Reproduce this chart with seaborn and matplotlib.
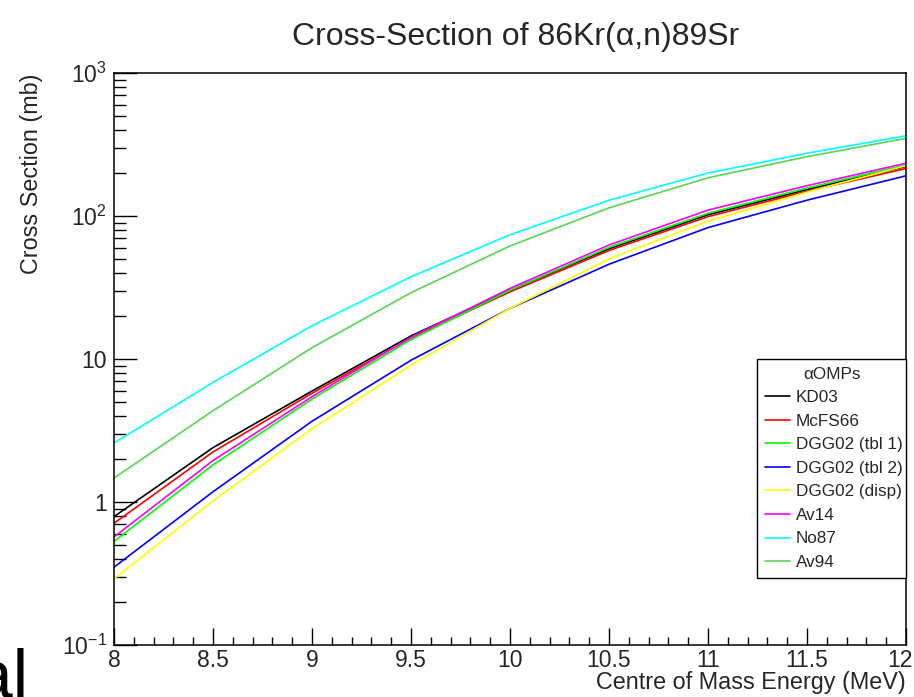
import numpy as np
import pandas as pd
import matplotlib
matplotlib.use("Agg")
import matplotlib.pyplot as plt
import matplotlib.transforms as mtransforms
import seaborn as sns
from matplotlib.ticker import FixedLocator, FixedFormatter, LogLocator, MultipleLocator, NullFormatter
from matplotlib.lines import Line2D

# ---------------- data ----------------
energy = [8.0, 8.5, 9.0, 9.5, 10.0, 10.5, 11.0, 11.5, 12.0]

kd03     = [0.79, 2.40, 5.97, 14.5, 30.3, 59.0, 102, 153, 222]
mcfs66   = [0.71, 2.24, 5.76, 14.0, 29.5, 57.4, 99, 149, 215]
dgg_t1   = [0.53, 1.82, 5.25, 13.7, 30.3, 60.4, 104.5, 157, 228]
dgg_t2   = [0.35, 1.18, 3.67, 9.8, 22.6, 46.0, 83, 129, 191]
dgg_disp = [0.29, 1.02, 3.26, 9.08, 22.6, 50.2, 92, 147, 225]
av14     = [0.57, 1.95, 5.45, 14.2, 31.2, 62.7, 110, 163, 234]
no87     = [2.59, 6.87, 17.1, 37.6, 74.0, 129, 200, 275, 364]
av94     = [1.47, 4.35, 12.0, 29.1, 61.7, 114, 185, 260, 349]

series_names = ["KD03", "McFS66", "DGG02 (tbl 1)", "DGG02 (tbl 2)", "DGG02 (disp)",
                "Av14", "No87", "Av94"]
series_values = [kd03, mcfs66, dgg_t1, dgg_t2, dgg_disp, av14, no87, av94]
series_colors = ["#000000", "#ff0000", "#00ff00", "#0000ff", "#ffff00",
                 "#ff00ff", "#00ffff", "#59d454"]

ytick_values = [0.1, 1, 10, 100, 1000]
ytick_labels = ["$10^{-1}$", "1", "10", "$10^{2}$", "$10^{3}$"]
xtick_values = [8, 8.5, 9, 9.5, 10, 10.5, 11, 11.5, 12]
xtick_labels = ["8", "8.5", "9", "9.5", "10", "10.5", "11", "11.5", "12"]

# ---------------- build long-form table ----------------
rows = []
for name, vals in zip(series_names, series_values):
    for e, v in zip(energy, vals):
        rows.append({"E": e, "xs": v, "model": name})
df = pd.DataFrame(rows)

sns.set_theme(style="white")
plt.rcParams["font.family"] = ["Liberation Sans", "DejaVu Sans"]
plt.rcParams["mathtext.fontset"] = "custom"
plt.rcParams["mathtext.rm"] = "Liberation Sans"
plt.rcParams["mathtext.it"] = "Liberation Sans:italic"
plt.rcParams["mathtext.bf"] = "Liberation Sans:bold"

fig = plt.figure(figsize=(9.14, 6.97), dpi=100)
ax = fig.add_axes([114 / 914, 1 - 645 / 697, 792 / 914, 572 / 697])

palette = dict(zip(series_names, series_colors))
sns.lineplot(data=df, x="E", y="xs", hue="model", hue_order=series_names,
             palette=palette, linewidth=1.2, ax=ax, legend=False,
             estimator=None, sort=True)

ax.set_yscale("log")
ax.set_xlim(8, 12)
ax.set_ylim(0.1, 1000)

for s in ax.spines.values():
    s.set_color("black")
    s.set_linewidth(1.1)
    s.set_visible(True)

ax.xaxis.set_major_locator(FixedLocator(xtick_values))
ax.xaxis.set_major_formatter(FixedFormatter(xtick_labels))
ax.xaxis.set_minor_locator(MultipleLocator(0.1))
ax.yaxis.set_major_locator(FixedLocator(ytick_values))
ax.yaxis.set_major_formatter(FixedFormatter(ytick_labels))
ax.yaxis.set_minor_locator(LogLocator(base=10, subs=np.arange(2, 10)))
ax.yaxis.set_minor_formatter(NullFormatter())

ax.tick_params(axis="x", which="major", direction="in", length=12, width=1.0,
               labelsize=16.5, pad=3, top=False, bottom=True, color="black")
ax.tick_params(axis="x", which="minor", direction="in", length=6, width=1.0,
               top=False, bottom=True, color="black")
ax.tick_params(axis="y", which="major", direction="in", length=16.5, width=1.0,
               labelsize=16.5, pad=5, left=True, right=False, color="black")
ax.tick_params(axis="y", which="minor", direction="in", length=8.5, width=1.0,
               left=True, right=False, color="black")
ax.grid(False)

# keep the last x tick label inside the canvas (as in the reference)
fig.canvas.draw()
last = ax.get_xticklabels()[-1]
last.set_transform(last.get_transform() +
                   mtransforms.ScaledTranslation(-6 / 100, 0, fig.dpi_scale_trans))

ax.set_xlabel("Centre of Mass Energy (MeV)", fontsize=16.8, loc="right")
ax.xaxis.set_label_coords(1.0, -0.045)
ax.xaxis.label.set_va("top")
ax.set_ylabel("Cross Section (mb)", fontsize=16.8, loc="top")
ax.yaxis.set_label_coords(-0.09, 1.0)

fig.text(516 / 914, 1 - 37 / 697, "Cross-Section of 86Kr(\u03b1,n)89Sr",
         fontsize=23, ha="center", va="center")

handles = [Line2D([0], [0], color=c, lw=1.2) for c in series_colors]
leg = ax.legend(handles, series_names, title="\u03b1OMPs", fontsize=12.3,
                title_fontsize=12.3, loc="upper left",
                bbox_to_anchor=(0.812, 0.124, 0.188, 0.376), mode="expand",
                frameon=True, fancybox=False, framealpha=1.0, edgecolor="black",
                handlelength=1.45, handletextpad=0.35, labelspacing=0.5,
                borderpad=0.45, borderaxespad=0.0)
leg.get_frame().set_linewidth(1.0)

fig.text(28 / 914, 1 - 698 / 697, "al", fontsize=50, ha="right", va="baseline",
         color="black")

fig.savefig("out.png", dpi=100)
